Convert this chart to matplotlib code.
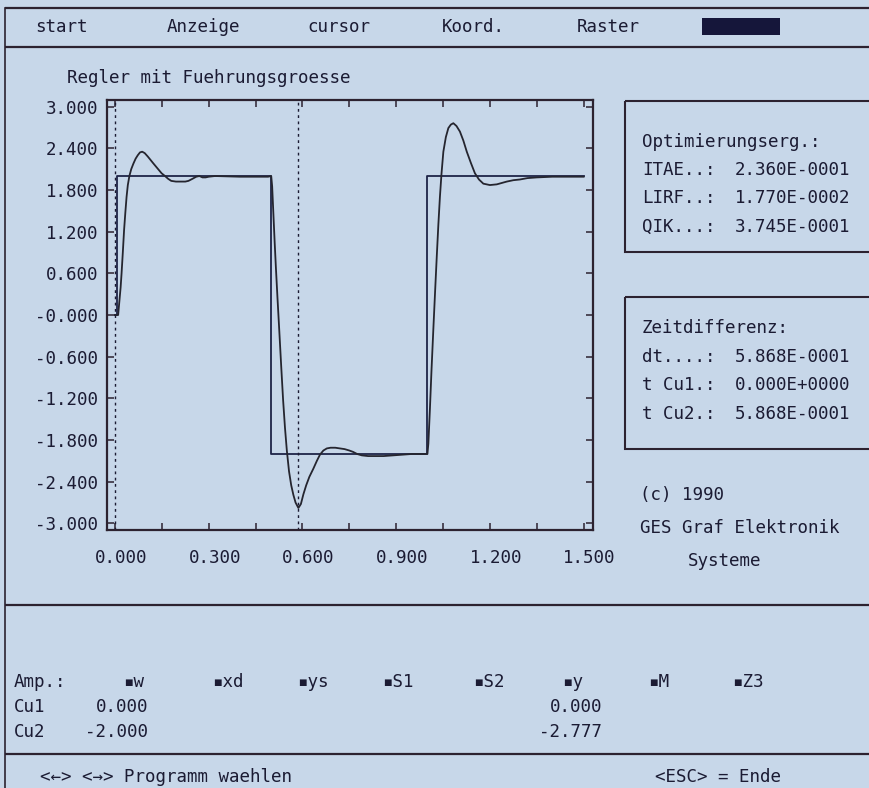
import matplotlib
matplotlib.use('Agg')
import numpy as np
import matplotlib.pyplot as plt
from matplotlib.patches import Rectangle
from matplotlib.transforms import ScaledTranslation

plt.rcParams['font.family'] = ['DejaVu Sans Mono', 'DejaVu Sans']

# --- data ---
# reference signal w
t_w = [0.0, 0.007, 0.007, 0.5, 0.5, 1.0, 1.0, 1.5]
w = [0.0, 0.0, 2.0, 2.0, -2.0, -2.0, 2.0, 2.0]

# controlled variable y
t_y = [0.000, 0.010, 0.014, 0.018, 0.021, 0.025, 0.029, 0.033, 0.037, 0.041,
       0.046, 0.052, 0.059, 0.066, 0.073, 0.080, 0.087, 0.095, 0.105, 0.114,
       0.123, 0.136, 0.149, 0.160, 0.170, 0.180, 0.195, 0.210, 0.225, 0.235,
       0.248, 0.260, 0.270, 0.280, 0.290, 0.300, 0.320, 0.400, 0.490,
       0.500, 0.503, 0.507, 0.511, 0.515, 0.520, 0.526, 0.532, 0.538, 0.544,
       0.550, 0.557, 0.564, 0.571, 0.578, 0.587, 0.595, 0.603, 0.612, 0.622,
       0.635, 0.646, 0.656, 0.667, 0.678, 0.690, 0.705, 0.720, 0.735, 0.750,
       0.762, 0.775, 0.790, 0.810, 0.830, 0.860, 0.890, 0.920, 0.950, 1.000,
       1.003, 1.008, 1.013, 1.019, 1.025, 1.030, 1.035, 1.040, 1.045, 1.051,
       1.059, 1.067, 1.075, 1.083, 1.093, 1.104, 1.115, 1.126, 1.139, 1.152,
       1.165, 1.179, 1.200, 1.222, 1.238, 1.254, 1.275, 1.296, 1.320, 1.350,
       1.400, 1.450, 1.500]
y = [0.00, 0.00, 0.20, 0.40, 0.60, 0.90, 1.22, 1.47, 1.70, 1.87,
     2.00, 2.10, 2.18, 2.25, 2.30, 2.34, 2.35, 2.33, 2.28, 2.23,
     2.18, 2.11, 2.04, 2.00, 1.96, 1.93, 1.92, 1.92, 1.92, 1.93,
     1.96, 1.99, 2.00, 1.98, 1.98, 1.99, 2.00, 1.99, 1.99,
     2.00, 1.85, 1.45, 1.05, 0.68, 0.25, -0.24, -0.74, -1.22, -1.62,
     -1.95, -2.25, -2.45, -2.59, -2.70, -2.777, -2.72, -2.58, -2.45, -2.33,
     -2.21, -2.10, -2.01, -1.95, -1.92, -1.91, -1.91, -1.92, -1.93, -1.95,
     -1.97, -2.00, -2.02, -2.03, -2.03, -2.03, -2.02, -2.01, -2.00, -2.00,
     -1.85, -1.35, -0.80, -0.20, 0.38, 0.85, 1.30, 1.70, 2.03, 2.35,
     2.56, 2.69, 2.74, 2.76, 2.72, 2.64, 2.51, 2.35, 2.19, 2.04,
     1.95, 1.89, 1.87, 1.88, 1.90, 1.92, 1.94, 1.95, 1.97, 1.98,
     1.99, 1.99, 1.99]

cursor_t = [0.0, 0.5868]

x_ticks = [0.0, 0.3, 0.6, 0.9, 1.2, 1.5]
x_labels = ['0.000', '0.300', '0.600', '0.900', '1.200', '1.500']
y_ticks = [3.0, 2.4, 1.8, 1.2, 0.6, 0.0, -0.6, -1.2, -1.8, -2.4, -3.0]
y_labels = ['3.000', '2.400', '1.800', '1.200', '0.600', '-0.000',
            '-0.600', '-1.200', '-1.800', '-2.400', '-3.000']

title = 'Regler mit Fuehrungsgroesse'
menu_items = ['start', 'Anzeige', 'cursor', 'Koord.', 'Raster']
opt_head = 'Optimierungserg.:'
opt_names = ['ITAE..:', 'LIRF..:', 'QIK...:']
opt_values = ['2.360E-0001', '1.770E-0002', '3.745E-0001']
dt_head = 'Zeitdifferenz:'
dt_names = ['dt....:', 't Cu1.:', 't Cu2.:']
dt_values = ['5.868E-0001', '0.000E+0000', '5.868E-0001']
amp_channels = ['▪w', '▪xd', '▪ys', '▪S1', '▪S2', '▪y', '▪M', '▪Z3']
cursor_rows = ['Cu1', 'Cu2']
cursor_w = ['0.000', '-2.000']
cursor_y = ['0.000', '-2.777']

# --- colours / layout ---
BG = '#c7d7e9'
INK = '#1b1b33'
EDGE = '#2c2230'
FS = 12.6

fig = plt.figure(figsize=(8.7, 7.88), dpi=100, facecolor=BG)

# whole screen in pixel coordinates
scr = fig.add_axes([0, 0, 1, 1])
scr.set_xlim(0, 870)
scr.set_ylim(788, 0)
scr.axis('off')

def txt(x, yy, s, ha='left'):
    scr.text(x, yy, s, ha=ha, va='center', fontsize=FS, color=INK)

# frame lines
for yy in [8, 47, 605, 754]:
    scr.plot([5, 870], [yy, yy], color=EDGE, lw=1.6, solid_capstyle='butt')
scr.plot([5, 5], [8, 788], color=EDGE, lw=1.2)

# menu bar
for s, x in zip(menu_items, [35, 167, 307, 442, 577]):
    txt(x, 27, s)
scr.add_patch(Rectangle((702, 18), 78, 17, facecolor='#15163a', edgecolor='none'))

txt(67, 78, title)

# info boxes
scr.add_patch(Rectangle((625, 101), 260, 151, fill=False, edgecolor=EDGE, lw=1.5))
scr.add_patch(Rectangle((625, 297), 260, 152, fill=False, edgecolor=EDGE, lw=1.5))
txt(642, 142, opt_head)
for i, (n, v) in enumerate(zip(opt_names, opt_values)):
    txt(642, 170 + 28.3 * i, n)
    txt(735, 170 + 28.3 * i, v)
txt(642, 328, dt_head)
for i, (n, v) in enumerate(zip(dt_names, dt_values)):
    txt(642, 357 + 28.3 * i, n)
    txt(735, 357 + 28.3 * i, v)

txt(640, 495, '(c) 1990')
txt(640, 528, 'GES Graf Elektronik')
txt(688, 561, 'Systeme')

# amplitude table
txt(14, 682, 'Amp.:')
for s, x in zip(amp_channels, [123, 212, 297, 382, 473, 562, 648, 732]):
    txt(x, 682, s)
for i, r in enumerate(cursor_rows):
    yy = 707 + 25 * i
    txt(14, yy, r)
    txt(148, yy, cursor_w[i], ha='right')
    txt(602, yy, cursor_y[i], ha='right')

txt(40, 777, '<←> <→> Programm waehlen')
txt(655, 777, '<ESC> = Ende')

# --- the plot ---
ax = fig.add_axes([106.7 / 870, 1 - 530 / 788, (593 - 106.7) / 870, 430 / 788])
ax.patch.set_alpha(0)
ax.plot(t_w, w, color='#1e2448', lw=1.3)
ax.plot(t_y, y, color='#25252f', lw=1.3)
for c in cursor_t:
    ax.axvline(c, color=INK, lw=1.0, linestyle=(0, (2, 2.5)))

ax.set_xlim(-0.0266, 1.530)
ax.set_ylim(-3.094, 3.094)
ax.set_xticks(x_ticks, x_labels)
ax.set_xticks(np.arange(0.15, 1.5, 0.3), minor=True)
ax.set_yticks(y_ticks, y_labels)
ax.tick_params(which='both', direction='in', length=5, width=1.1, color=EDGE,
               top=True, right=True, labelsize=FS, labelcolor=INK)
ax.tick_params(axis='x', pad=14)
ax.tick_params(axis='y', pad=6)
for sp in ax.spines.values():
    sp.set_color(EDGE)
    sp.set_linewidth(1.6)
shift = ScaledTranslation(6 / 100, 0, fig.dpi_scale_trans)
for lab in ax.get_xticklabels():
    lab.set_transform(lab.get_transform() + shift)

fig.savefig('out.png', dpi=100, facecolor=BG)
